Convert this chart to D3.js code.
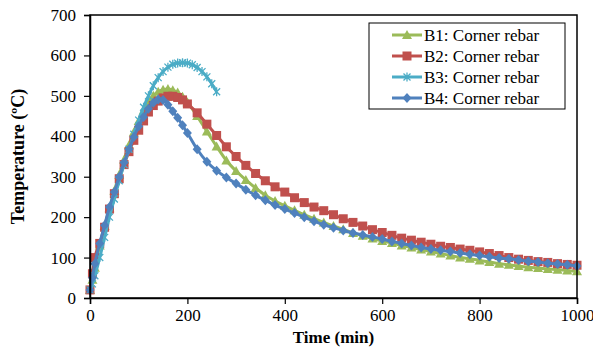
<!DOCTYPE html>
<html>
<head>
<meta charset="utf-8">
<script src="https://cdn.jsdelivr.net/npm/d3@7"></script>
<style>
  body { margin: 0; background: #fff; }
  svg text { font-family: "Times New Roman", "Liberation Serif", Tinos, "DejaVu Serif", serif; fill: #000; }
</style>
</head>
<body>
<div id="chart"></div>
<script>
// time (min) for B1, B2, B4
const time = [0, 5, 10, 20, 30, 40, 50, 60, 70, 80, 90, 100, 110, 120, 130, 140, 150, 160, 170, 180, 190, 200,
  220, 240, 260, 280, 300, 320, 340, 360, 380, 400, 420, 440, 460, 480, 500, 520, 540, 560, 580, 600,
  620, 640, 660, 680, 700, 720, 740, 760, 780, 800, 820, 840, 860, 880, 900, 920, 940, 960, 980, 1000];

const b1 = [20, 45, 75, 130, 178, 222, 265, 305, 342, 378, 410, 438, 463, 484, 500, 510, 515, 517, 514, 508, 498, 484,
  450, 412, 375, 340, 314, 292, 272, 254, 240, 228, 217, 206, 196, 187, 178, 170, 161, 154, 147, 141,
  136, 130, 125, 120, 115, 110, 105, 100, 97, 93, 89, 85, 82, 79, 76, 74, 72, 70, 68, 66];

const b2 = [20, 60, 100, 135, 175, 220, 258, 295, 330, 362, 390, 415, 438, 460, 476, 487, 495, 499, 499, 496, 490, 480,
  458, 430, 402, 374, 350, 328, 308, 290, 275, 262, 248, 236, 225, 216, 206, 196, 187, 178, 169, 162,
  155, 148, 143, 138, 133, 128, 125, 121, 118, 114, 110, 105, 100, 96, 93, 90, 88, 85, 83, 81];

const b4 = [20, 50, 85, 135, 180, 225, 262, 300, 335, 368, 398, 425, 448, 468, 483, 491, 490, 478, 462, 446, 427, 408,
  368, 337, 315, 298, 283, 268, 254, 242, 230, 220, 210, 200, 190, 181, 174, 167, 161, 156, 151, 146,
  140, 135, 130, 125, 121, 118, 115, 111, 108, 105, 102, 99, 97, 94, 91, 89, 86, 84, 82, 79];

// B3 stops early
const timeB3 = [0, 5, 10, 20, 30, 40, 50, 60, 70, 80, 90, 100, 110, 120, 130, 140, 150, 160, 170, 180, 190, 200,
  210, 220, 230, 240, 250, 260];
const b3 = [20, 35, 55, 100, 150, 200, 245, 290, 330, 368, 405, 440, 472, 500, 525, 545, 560, 571, 578, 581, 582, 581,
  577, 570, 560, 547, 530, 510];

const xTicks = [0, 200, 400, 600, 800, 1000];
const yTicks = [0, 100, 200, 300, 400, 500, 600, 700];

const seriesNames = ['B1: Corner rebar', 'B2: Corner rebar', 'B3: Corner rebar', 'B4: Corner rebar'];
const colors = ['#9BBB59', '#C0504D', '#4BACC6', '#4F81BD'];
const markers = ['triangle', 'square', 'star', 'diamond'];

const series = [
  { name: seriesNames[0], color: colors[0], marker: markers[0], pts: time.map((t, i) => ({ t, v: b1[i] })) },
  { name: seriesNames[1], color: colors[1], marker: markers[1], pts: time.map((t, i) => ({ t, v: b2[i] })) },
  { name: seriesNames[2], color: colors[2], marker: markers[2], pts: timeB3.map((t, i) => ({ t, v: b3[i] })) },
  { name: seriesNames[3], color: colors[3], marker: markers[3], pts: time.map((t, i) => ({ t, v: b4[i] })) }
];

const width = 593, height = 357;
const margin = { left: 90, right: 16, top: 15, bottom: 59 };

const svg = d3.select('#chart').append('svg')
  .attr('width', width)
  .attr('height', height);

const x = d3.scaleLinear().domain([0, 1000]).range([margin.left, width - margin.right]);
const y = d3.scaleLinear().domain([0, 700]).range([height - margin.bottom, margin.top]);

// markers
function drawMarker(g, type, color) {
  if (type === 'triangle') {
    g.append('path').attr('d', 'M0,-5L5,4L-5,4Z').attr('fill', color);
  } else if (type === 'square') {
    g.append('rect').attr('x', -4.5).attr('y', -4.5).attr('width', 9).attr('height', 9).attr('fill', color);
  } else if (type === 'diamond') {
    g.append('path').attr('d', 'M0,-5L4.5,0L0,5L-4.5,0Z').attr('fill', color);
  } else {
    g.append('path').attr('d', 'M-3.5,-3.5L3.5,3.5M-3.5,3.5L3.5,-3.5M0,-4.5L0,4.5')
      .attr('stroke', color).attr('stroke-width', 1.3).attr('fill', 'none');
  }
}

const line = d3.line().x(d => x(d.t)).y(d => y(d.v)).curve(d3.curveMonotoneX);

const plot = svg.append('g');
series.forEach(s => {
  plot.append('path')
    .datum(s.pts)
    .attr('d', line)
    .attr('fill', 'none')
    .attr('stroke', s.color)
    .attr('stroke-width', 3);
  plot.selectAll(null)
    .data(s.pts)
    .enter()
    .append('g')
    .attr('transform', d => `translate(${x(d.t)},${y(d.v)})`)
    .each(function () { drawMarker(d3.select(this), s.marker, s.color); });
});

// frame
svg.append('rect')
  .attr('x', x(0)).attr('y', y(700))
  .attr('width', x(1000) - x(0)).attr('height', y(0) - y(700))
  .attr('fill', 'none').attr('stroke', '#000').attr('stroke-width', 1.5);

// axes
const xAxis = svg.append('g')
  .attr('transform', `translate(0,${y(0)})`)
  .call(d3.axisBottom(x).tickValues(xTicks).tickSize(6).tickPadding(5).tickFormat(d3.format('d')));
const yAxis = svg.append('g')
  .attr('transform', `translate(${x(0)},0)`)
  .call(d3.axisLeft(y).tickValues(yTicks).tickSize(6).tickPadding(8).tickFormat(d3.format('d')));

[xAxis, yAxis].forEach(a => {
  a.attr('font-family', null);
  a.select('.domain').attr('stroke', '#000').attr('stroke-width', 1.5);
  a.selectAll('.tick line').attr('stroke', '#000').attr('stroke-width', 1.2);
  a.selectAll('.tick text').attr('font-size', 17);
});

svg.append('text')
  .attr('x', (x(0) + x(1000)) / 2)
  .attr('y', 343)
  .attr('text-anchor', 'middle')
  .attr('font-size', 17)
  .attr('font-weight', 'bold')
  .text('Time (min)');

svg.append('text')
  .attr('transform', `translate(24,${(y(0) + y(700)) / 2}) rotate(-90)`)
  .attr('text-anchor', 'middle')
  .attr('font-size', 18)
  .attr('font-weight', 'bold')
  .text('Temperature (ºC)');

// legend
const legend = svg.append('g');
legend.append('rect')
  .attr('x', 369).attr('y', 23).attr('width', 196).attr('height', 86)
  .attr('fill', '#fff').attr('stroke', '#000').attr('stroke-width', 1);

series.forEach((s, i) => {
  const ly = 35 + i * 21;
  legend.append('line')
    .attr('x1', 392).attr('x2', 422).attr('y1', ly).attr('y2', ly)
    .attr('stroke', s.color).attr('stroke-width', 3);
  drawMarker(legend.append('g').attr('transform', `translate(407,${ly})`), s.marker, s.color);
  legend.append('text')
    .attr('x', 424).attr('y', ly + 5.5)
    .attr('font-size', 17)
    .text(s.name);
});
</script>
</body>
</html>
